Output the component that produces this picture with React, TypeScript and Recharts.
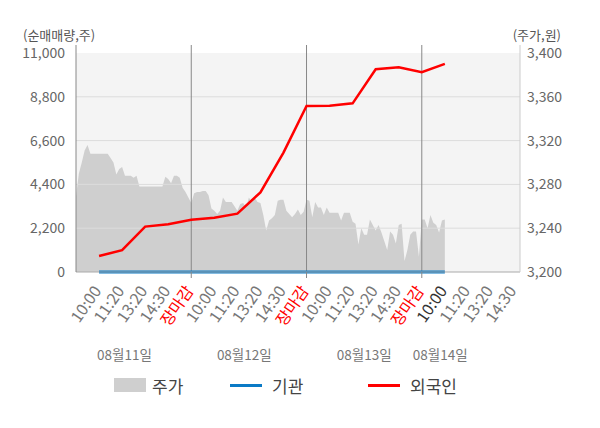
import React from 'react';
import {
  ComposedChart,
  Area,
  Line,
  XAxis,
  YAxis,
  ReferenceLine,
  ReferenceArea,
} from 'recharts';

const FONT = '"Noto Sans CJK KR", "Noto Sans", sans-serif';

// x axis: 5 slots per session (10:00, 11:20, 13:20, 14:30, 장마감)
const SESSION_TIMES = ['10:00', '11:20', '13:20', '14:30', '장마감'];
const DATES = ['08월11일', '08월12일', '08월13일', '08월14일'];
const DATE_LABEL_AT = [2.1, 7.3, 12.5, 15.8];

const LEFT_TICKS = [0, 2200, 4400, 6600, 8800, 11000];
const RIGHT_TICKS = [3200, 3240, 3280, 3320, 3360, 3400];

// 주가, 40 samples per session (last session only partly traded)
const PRICE_D1 = [
  3269, 3290, 3300, 3311, 3316, 3308, 3308, 3308, 3308, 3308,
  3308, 3308, 3304, 3300, 3289, 3294, 3296, 3288, 3288, 3288,
  3286, 3288, 3278, 3278, 3278, 3278, 3278, 3278, 3278, 3278,
  3278, 3287, 3285, 3281, 3288, 3288, 3286, 3277, 3273, 3268,
];
const PRICE_D2 = [
  3263, 3272, 3273, 3273, 3274, 3274, 3270, 3258, 3256, 3253,
  3256, 3268, 3264, 3264, 3264, 3260, 3256, 3262, 3263, 3259,
  3268, 3264, 3268, 3264, 3263, 3252, 3238, 3247, 3249, 3252,
  3265, 3266, 3266, 3256, 3253, 3250, 3253, 3257, 3252, 3255,
];
const PRICE_D3 = [
  3266, 3265, 3250, 3264, 3259, 3259, 3252, 3259, 3254, 3254,
  3254, 3254, 3247, 3254, 3254, 3254, 3246, 3244, 3225, 3240,
  3234, 3234, 3248, 3243, 3238, 3243, 3236, 3228, 3220, 3237,
  3234, 3226, 3243, 3244, 3210, 3220, 3234, 3237, 3237, 3214,
];
const PRICE_D4 = [3248, 3248, 3240, 3252, 3245, 3243, 3236, 3247, 3248];

// 순매매량 (누적), one value per slot from 08/11 10:00
const FOREIGN = [
  800, 1100, 2280, 2400, 2620,
  2730, 2930, 4000, 6000, 8340,
  8350, 8470, 10180, 10280, 10030,
  10450,
];
const INSTITUTION = [0, 0, 0, 0, 0, 0, 0, 0, 0, 0, 0, 0, 0, 0, 0, 0];

const SLOTS = 5;
const SAMPLES = 40;

const priceData = [PRICE_D1, PRICE_D2, PRICE_D3, PRICE_D4].flatMap((day, d) =>
  day.map((price, i) => ({ t: d * SLOTS + (i * SLOTS) / SAMPLES, price }))
);
const flowData = FOREIGN.map((v, i) => ({
  t: i + 1,
  foreign: v,
  inst: INSTITUTION[i],
}));
const timeTicks = Array.from({ length: 19 }, (_, i) => i + 1);

const X_DOMAIN: [number, number] = [0, 19.26];

function TimeTick({ x, y, payload }: any) {
  const label = SESSION_TIMES[(payload.value - 1) % SLOTS];
  const isClose = label === '장마감';
  const isLast = payload.value === FOREIGN.length;
  return (
    <g transform={`translate(${x},${y})`}>
      {isClose && <line x1={0} x2={0} y1={-8} y2={-2} stroke="#888" />}
      <text
        transform="translate(3,11) rotate(-55)"
        textAnchor="end"
        fontSize={16}
        fontFamily={FONT}
        fill={isClose ? '#ff0000' : isLast ? '#333' : '#777'}
      >
        {label}
      </text>
    </g>
  );
}

function DateTick({ x, y, index }: any) {
  return (
    <text
      x={x}
      y={y}
      dy={10}
      textAnchor="middle"
      fontSize={13.5}
      fontFamily={FONT}
      fill="#777"
    >
      {DATES[index] ?? ''}
    </text>
  );
}

const fmt = (v: number) => v.toLocaleString('en-US');

export default function App() {
  return (
    <div
      style={{
        position: 'absolute',
        left: 0,
        top: 0,
        width: 600,
        height: 428,
        background: '#fff',
        fontFamily: FONT,
      }}
    >
      <div style={{ position: 'absolute', left: 23, top: 25, fontSize: 13, color: '#555' }}>
        (순매매량,주)
      </div>
      <div style={{ position: 'absolute', right: 39, top: 25, fontSize: 13, color: '#555' }}>
        (주가,원)
      </div>

      <ComposedChart
        width={600}
        height={428}
        margin={{ top: 45, right: 0, bottom: 56, left: 0 }}
      >
        <XAxis
          dataKey="t"
          type="number"
          domain={X_DOMAIN}
          ticks={timeTicks}
          interval={0}
          height={70}
          tick={<TimeTick />}
          tickLine={false}
          axisLine={{ stroke: '#aaa' }}
        />
        <XAxis
          xAxisId="date"
          dataKey="t"
          type="number"
          domain={X_DOMAIN}
          ticks={DATE_LABEL_AT}
          interval={0}
          height={30}
          tick={<DateTick />}
          tickLine={false}
          axisLine={false}
          allowDataOverflow
        />
        <YAxis
          yAxisId="left"
          domain={[0, 11401]}
          ticks={LEFT_TICKS}
          width={76}
          tickFormatter={fmt}
          tick={{ fill: '#666', fontSize: 14, fontFamily: FONT }}
          tickLine={false}
          tickSize={0}
          tickMargin={11}
          axisLine={{ stroke: '#888' }}
        />
        <YAxis
          yAxisId="right"
          orientation="right"
          domain={[3200, 3407.3]}
          ticks={RIGHT_TICKS}
          width={80}
          tickFormatter={fmt}
          tick={{ fill: '#666', fontSize: 14, fontFamily: FONT, textAnchor: 'start' }}
          tickLine={false}
          tickSize={0}
          tickMargin={7}
          axisLine={{ stroke: '#ccc' }}
        />

        <ReferenceArea
          yAxisId="left"
          y1={0}
          y2={11000}
          fill="#f4f4f4"
          fillOpacity={1}
          stroke="none"
        />

        <Area
          yAxisId="right"
          data={priceData}
          dataKey="price"
          type="linear"
          baseValue={3200}
          fill="#cfcfcf"
          fillOpacity={1}
          stroke="none"
          isAnimationActive={false}
        />

        {LEFT_TICKS.slice(1, -1).map((v) => (
          <ReferenceLine key={v} yAxisId="left" y={v} stroke="#dcdcdc" />
        ))}
        {[5, 10, 15].map((v) => (
          <ReferenceLine key={v} yAxisId="left" x={v} stroke="#888" />
        ))}

        <Line
          yAxisId="left"
          data={flowData}
          dataKey="inst"
          type="linear"
          stroke="#0a7ac6"
          strokeWidth={3}
          dot={false}
          isAnimationActive={false}
        />
        <Line
          yAxisId="left"
          data={flowData}
          dataKey="foreign"
          type="linear"
          stroke="#ff0000"
          strokeWidth={2.5}
          dot={false}
          isAnimationActive={false}
        />
      </ComposedChart>

      <div style={{ position: 'absolute', left: 114, top: 378, width: 32, height: 14, background: '#cfcfcf' }} />
      <div style={{ position: 'absolute', left: 152, top: 373, fontSize: 17, color: '#444' }}>주가</div>
      <div style={{ position: 'absolute', left: 230, top: 384, width: 32, height: 3, background: '#0a7ac6' }} />
      <div style={{ position: 'absolute', left: 272, top: 373, fontSize: 17, color: '#444' }}>기관</div>
      <div style={{ position: 'absolute', left: 368, top: 384, width: 32, height: 3, background: '#ff0000' }} />
      <div style={{ position: 'absolute', left: 410, top: 373, fontSize: 17, color: '#444' }}>외국인</div>
    </div>
  );
}
